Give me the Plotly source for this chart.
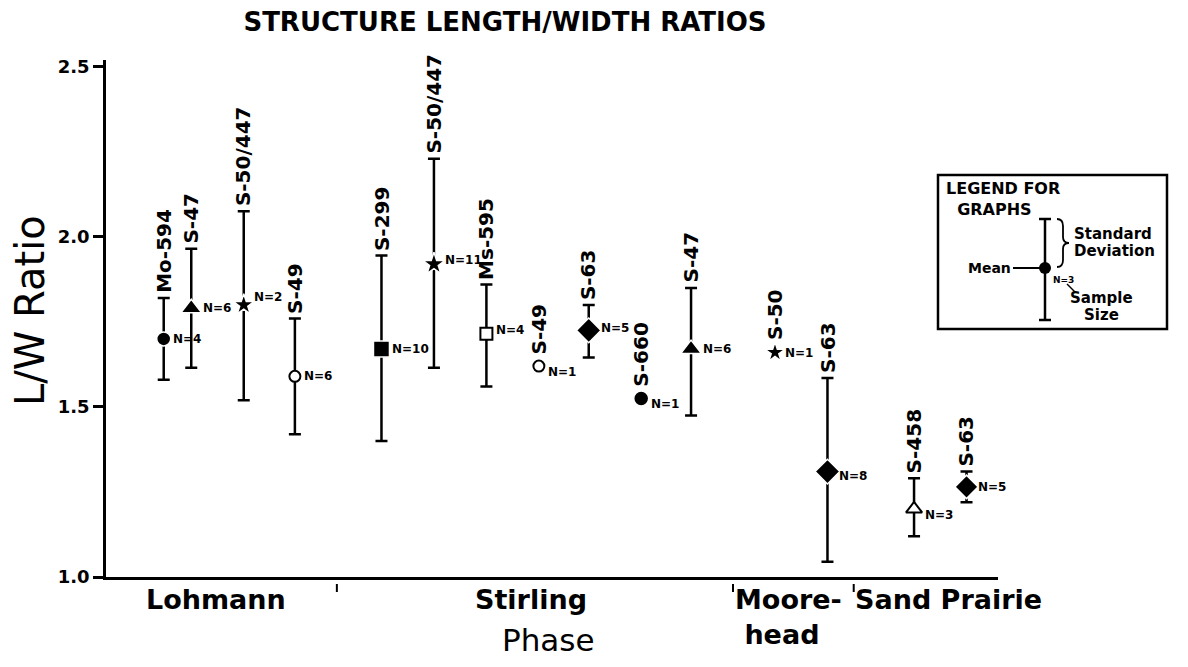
import plotly.graph_objects as go

# ---------------- data ----------------
samples = ["Mo-594", "S-47", "S-50/447", "S-49",
           "S-299", "S-50/447", "Ms-595", "S-49", "S-63", "S-660", "S-47",
           "S-50", "S-63",
           "S-458", "S-63"]
phases = ["Lohmann"] * 4 + ["Stirling"] * 7 + ["Moorehead"] * 2 + ["Sand Prairie"] * 2
x_slot = [2.2, 3.25, 5.25, 7.2,
          10.5, 12.5, 14.5, 16.5, 18.4, 20.4, 22.3,
          25.5, 27.5,
          30.8, 32.8]
means = [1.70, 1.79, 1.80, 1.59,
         1.67, 1.92, 1.715, 1.62, 1.725, 1.525, 1.67,
         1.66, 1.31,
         1.20, 1.265]
upper = [1.82, 1.965, 2.075, 1.76,
         1.945, 2.23, 1.86, None, 1.80, None, 1.85,
         None, 1.585,
         1.29, 1.31]
lower = [1.58, 1.615, 1.52, 1.42,
         1.40, 1.615, 1.56, None, 1.645, None, 1.475,
         None, 1.045,
         1.12, 1.22]
n_sizes = [4, 6, 2, 6,
           10, 11, 4, 1, 5, 1, 6,
           1, 8,
           3, 5]

phase_names = ["Lohmann", "Stirling", "Moore-<br> head", "Sand Prairie"]
phase_centers = [4.2, 16.2, 26.0, 32.1]
phase_bounds = [8.8, 23.9, 28.5]
y_ticks = [1.0, 1.5, 2.0, 2.5]
y_ticktext = ["1.0", "1.5", "2.0", "2.5"]

# ---------------- styles ----------------
symbols = ["circle", "triangle-up", "star", "circle",
           "square", "star", "square", "circle", "diamond", "circle", "triangle-up",
           "star", "diamond",
           "triangle-up", "diamond"]
fills = ["black", "black", "black", "white",
         "black", "black", "white", "white", "black", "black", "black",
         "black", "black",
         "white", "black"]
msizes = [11, 15, 13, 11,
          13, 14, 12, 11, 16, 12, 15,
          12, 16,
          14, 15]
n_dy = [0, 0, 8, 0,
        0, 4, 4, -6, 2, -6, 0,
        0, -4,
        -6, 0]

BOLD = "DejaVu Sans"
# the page body has an 8px margin: screen coords are offset by 8
OFF = 8
W, H = 1188 - 2 * OFF, 667 - 2 * OFF
L, T = 106 - OFF, 60 - OFF
PW, PH = 892, 517
R, B = W - L - PW, H - T - PH


def px_x(p):
    """screen x pixel -> paper"""
    return (p - OFF - L) / PW


def px_y(p):
    """screen y pixel -> paper"""
    return (T + PH - (p - OFF)) / PH


fig = go.Figure()
annotations = []
shapes = []

for i, name in enumerate(samples):
    has_err = upper[i] is not None
    err = None
    if has_err:
        err = dict(type="data", symmetric=False,
                   array=[upper[i] - means[i]], arrayminus=[means[i] - lower[i]],
                   color="black", thickness=2.5, width=6)
    filled = fills[i] == "black"
    fig.add_trace(go.Scatter(
        x=[x_slot[i]], y=[means[i]], mode="markers",
        marker=dict(symbol=symbols[i], size=msizes[i] + (3 if filled else 0), color=fills[i],
                    line=dict(color="white" if filled else "black",
                              width=1.5 if filled else 2)),
        error_y=err, showlegend=False, name=name,
        hovertemplate=f"{phases[i]} {name}<br>mean=%{{y}}<br>N={n_sizes[i]}<extra></extra>"))
    annotations.append(dict(
        x=x_slot[i], y=upper[i] if has_err else means[i], xref="x", yref="y",
        text=f"<b>{name}</b>", textangle=-90, showarrow=False,
        xanchor="center", yanchor="bottom", yshift=3 if has_err else 10,
        font=dict(family=BOLD, size=20, color="black")))
    annotations.append(dict(
        x=x_slot[i], y=means[i], xref="x", yref="y",
        text=f"<b>N={n_sizes[i]}</b>", showarrow=False,
        xanchor="left", yanchor="middle", xshift=msizes[i] / 2 + 2, yshift=n_dy[i],
        font=dict(family=BOLD, size=12, color="black")))

for name, xc in zip(phase_names, phase_centers):
    annotations.append(dict(
        x=xc, y=px_y(582), xref="x", yref="paper", text=f"<b>{name}</b>",
        showarrow=False, xanchor="center", yanchor="top", align="left",
        font=dict(family=BOLD, size=27, color="black")))
for xb in phase_bounds:
    shapes.append(dict(type="line", xref="x", yref="paper", x0=xb, x1=xb,
                       y0=px_y(584), y1=px_y(592), line=dict(color="black", width=2)))

annotations.append(dict(x=px_x(30), y=px_y(311), xref="paper", yref="paper",
                        text="L/W Ratio", textangle=-90, showarrow=False,
                        xanchor="center", yanchor="middle",
                        font=dict(family="DejaVu Sans", size=40, color="black")))
annotations.append(dict(x=px_x(548), y=px_y(640), xref="paper", yref="paper",
                        text="Phase", showarrow=False, xanchor="center", yanchor="middle",
                        font=dict(family="DejaVu Sans", size=31, color="black")))

# ---------------- legend box (illustration) ----------------
shapes.append(dict(type="rect", xref="paper", yref="paper",
                   x0=px_x(938), x1=px_x(1167), y0=px_y(329), y1=px_y(175),
                   line=dict(color="black", width=2.5), fillcolor="rgba(0,0,0,0)"))
lx = 1045
shapes += [
    dict(type="line", xref="paper", yref="paper", x0=px_x(lx), x1=px_x(lx),
         y0=px_y(219), y1=px_y(320), line=dict(color="black", width=2.5)),
    dict(type="line", xref="paper", yref="paper", x0=px_x(lx - 6), x1=px_x(lx + 6),
         y0=px_y(219), y1=px_y(219), line=dict(color="black", width=2.5)),
    dict(type="line", xref="paper", yref="paper", x0=px_x(lx - 6), x1=px_x(lx + 6),
         y0=px_y(320), y1=px_y(320), line=dict(color="black", width=2.5)),
    dict(type="circle", xref="paper", yref="paper", x0=px_x(lx - 6), x1=px_x(lx + 6),
         y0=px_y(274), y1=px_y(262), fillcolor="black", line=dict(color="black", width=0)),
    dict(type="line", xref="paper", yref="paper", x0=px_x(1013), x1=px_x(lx - 5),
         y0=px_y(268), y1=px_y(268), line=dict(color="black", width=2)),
    dict(type="line", xref="paper", yref="paper", x0=px_x(1067), x1=px_x(1075),
         y0=px_y(284), y1=px_y(292), line=dict(color="black", width=1.5)),
]
brace = [(1057, 219), (1063, 219), (1063, 226), (1063, 237), (1063, 243), (1069, 243),
         (1063, 243), (1063, 249), (1063, 260), (1063, 267), (1057, 267)]
bp = [(px_x(a), px_y(b)) for a, b in brace]
path = (f"M {bp[0][0]},{bp[0][1]} Q {bp[1][0]},{bp[1][1]} {bp[2][0]},{bp[2][1]} "
        f"L {bp[3][0]},{bp[3][1]} Q {bp[4][0]},{bp[4][1]} {bp[5][0]},{bp[5][1]} "
        f"Q {bp[6][0]},{bp[6][1]} {bp[7][0]},{bp[7][1]} "
        f"L {bp[8][0]},{bp[8][1]} Q {bp[9][0]},{bp[9][1]} {bp[10][0]},{bp[10][1]}")
shapes.append(dict(type="path", xref="paper", yref="paper", path=path,
                   line=dict(color="black", width=1.8)))


def legend_text(text, x, y, anchor="left", size=15):
    annotations.append(dict(x=px_x(x), y=px_y(y), xref="paper", yref="paper",
                            text=f"<b>{text}</b>", showarrow=False,
                            xanchor=anchor, yanchor="middle",
                            font=dict(family=BOLD, size=size, color="black")))


annotations.append(dict(x=px_x(944), y=px_y(177), xref="paper", yref="paper",
                        text="<b>LEGEND FOR</b><br><b>  GRAPHS</b>", showarrow=False,
                        xanchor="left", yanchor="top", align="left",
                        font=dict(family=BOLD, size=16, color="black")))
legend_text("Standard", 1072, 234)
legend_text("Deviation", 1072, 251)
legend_text("Mean", 1013, 268, anchor="right", size=14)
legend_text("N=3", 1051, 280, size=9)
legend_text("Sample", 1101, 298, anchor="center")
legend_text("Size", 1101, 315, anchor="center")

fig.update_layout(
    width=W, height=H,
    margin=dict(l=L, r=R, t=T, b=B),
    paper_bgcolor="white", plot_bgcolor="white",
    title=dict(text="<b>STRUCTURE LENGTH/WIDTH RATIOS</b>", x=(505 - OFF) / W,
               xanchor="center", y=1 - (22 - OFF) / H, yanchor="middle", yref="container",
               font=dict(family=BOLD, size=26, color="black")),
    xaxis=dict(range=[0, 34], showline=True, linecolor="black", linewidth=2.5,
               showticklabels=False, ticks="", showgrid=False, zeroline=False),
    yaxis=dict(range=[1.0, 2.52], showline=True, linecolor="black", linewidth=2.5,
               tickvals=y_ticks, ticktext=[f"<b>{t}</b>" for t in y_ticktext],
               ticks="outside", ticklen=10, tickwidth=2.5, tickcolor="black",
               tickfont=dict(family=BOLD, size=18, color="black"),
               showgrid=False, zeroline=False),
    annotations=annotations, shapes=shapes,
)

fig.write_html("out.html")
